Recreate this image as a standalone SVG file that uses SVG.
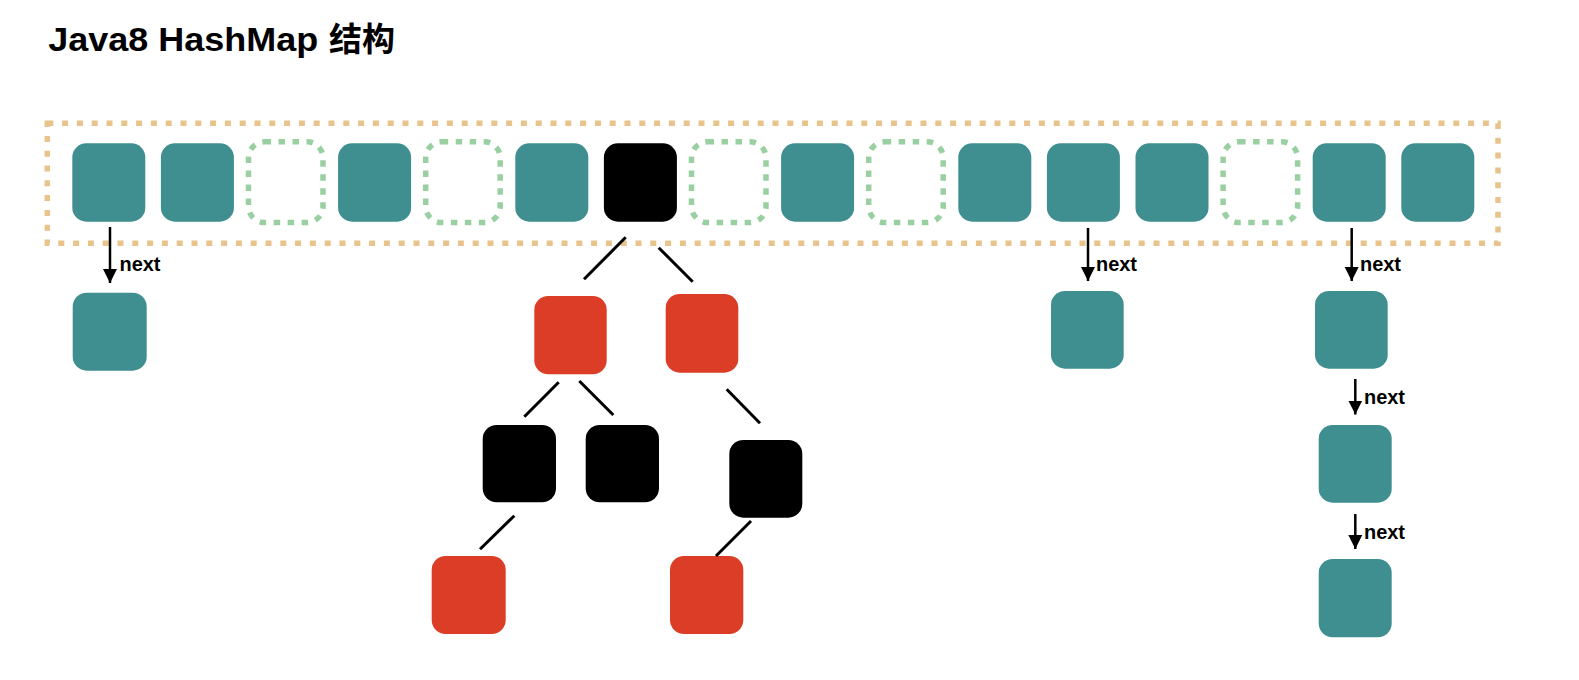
<svg xmlns="http://www.w3.org/2000/svg" width="1579" height="680" viewBox="0 0 1579 680">
<defs>
<style>
.teal{fill:#3F8E90}
.red{fill:#DC3D26}
.blk{fill:#000}
.empty{fill:none;stroke:#9ACFA2;stroke-width:5.5;stroke-dasharray:6.5 7.5}
.table{fill:none;stroke:#E8C38C;stroke-width:5.5;stroke-dasharray:6 8.8}
.edge{stroke:#000;stroke-width:3;fill:none}
.arrow{stroke:#000;stroke-width:2.5;fill:none;marker-end:url(#ah)}
.lbl{font-family:"Liberation Sans",Arial,sans-serif;font-weight:bold;font-size:20.5px;fill:#000}
.title{font-family:"Liberation Sans","Noto Sans CJK SC",sans-serif;font-weight:bold;font-size:33px;fill:#000}
</style>
<marker id="ah" markerUnits="userSpaceOnUse" markerWidth="14" markerHeight="15" refX="14" refY="7" orient="auto" viewBox="0 0 14 14">
<path d="M0,0 L14,7 L0,14 z" fill="#000"/>
</marker>
</defs>
<rect width="1579" height="680" fill="#fff"/>
<text class="title" x="48.3" y="51"><tspan textLength="270" lengthAdjust="spacingAndGlyphs">Java8 HashMap</tspan><tspan x="329" y="51">结构</tspan></text>
<g id="table"><rect class="table" x="47.3" y="123.3" width="1450.7" height="120"/></g>
<g id="buckets">
<g id="b0"><rect class="teal" x="72.3" y="143.3" width="73" height="78.4" rx="14"/></g>
<g id="b1"><rect class="teal" x="160.9" y="143.3" width="73" height="78.4" rx="14"/></g>
<g id="b2"><rect class="empty" x="248.5" y="141.8" width="74.5" height="80.7" rx="16"/></g>
<g id="b3"><rect class="teal" x="338.1" y="143.3" width="73" height="78.4" rx="14"/></g>
<g id="b4"><rect class="empty" x="425.7" y="141.8" width="74.5" height="80.7" rx="16"/></g>
<g id="b5"><rect class="teal" x="515.3" y="143.3" width="73" height="78.4" rx="14"/></g>
<g id="b6"><rect class="blk" x="603.9" y="143.3" width="73" height="78.4" rx="14"/></g>
<g id="b7"><rect class="empty" x="691.5" y="141.8" width="74.5" height="80.7" rx="16"/></g>
<g id="b8"><rect class="teal" x="781.1" y="143.3" width="73" height="78.4" rx="14"/></g>
<g id="b9"><rect class="empty" x="868.7" y="141.8" width="74.5" height="80.7" rx="16"/></g>
<g id="b10"><rect class="teal" x="958.3" y="143.3" width="73" height="78.4" rx="14"/></g>
<g id="b11"><rect class="teal" x="1046.9" y="143.3" width="73" height="78.4" rx="14"/></g>
<g id="b12"><rect class="teal" x="1135.5" y="143.3" width="73" height="78.4" rx="14"/></g>
<g id="b13"><rect class="empty" x="1223.1" y="141.8" width="74.5" height="80.7" rx="16"/></g>
<g id="b14"><rect class="teal" x="1312.7" y="143.3" width="73" height="78.4" rx="14"/></g>
<g id="b15"><rect class="teal" x="1401.3" y="143.3" width="73" height="78.4" rx="14"/></g>
</g>
<g id="list0"><rect class="teal" x="72.7" y="292.7" width="74" height="78" rx="14"/></g>
<g id="list11"><rect class="teal" x="1051" y="291" width="72.7" height="77.7" rx="14"/></g>
<g id="list14a"><rect class="teal" x="1315" y="291" width="72.7" height="77.7" rx="14"/></g>
<g id="list14b"><rect class="teal" x="1318.7" y="425" width="73" height="77.7" rx="14"/></g>
<g id="list14c"><rect class="teal" x="1318.7" y="559" width="73" height="78.3" rx="14"/></g>
<g id="treeL"><rect class="red" x="534.3" y="296" width="72.4" height="78.3" rx="14"/></g>
<g id="treeR"><rect class="red" x="665.7" y="294" width="72.6" height="78.7" rx="14"/></g>
<g id="treeLL"><rect class="blk" x="482.7" y="425" width="73.3" height="77.3" rx="14"/></g>
<g id="treeLR"><rect class="blk" x="585.7" y="425" width="73.3" height="77.3" rx="14"/></g>
<g id="treeRR"><rect class="blk" x="729.3" y="440" width="73" height="77.7" rx="14"/></g>
<g id="treeLLL"><rect class="red" x="431.7" y="556" width="74" height="78" rx="14"/></g>
<g id="treeRRL"><rect class="red" x="670" y="556" width="73.3" height="78" rx="14"/></g>
<g id="connectors">
<line class="arrow" x1="110" y1="227" x2="110" y2="283"/>
<line class="arrow" x1="1088" y1="228" x2="1088" y2="281"/>
<line class="arrow" x1="1351.7" y1="228" x2="1351.7" y2="281"/>
<line class="arrow" x1="1355.3" y1="379" x2="1355.3" y2="414.5"/>
<line class="arrow" x1="1355.3" y1="514" x2="1355.3" y2="549"/>
<line class="edge" x1="625.7" y1="237.3" x2="584" y2="279.3"/>
<line class="edge" x1="658.7" y1="247.7" x2="692.7" y2="281.7"/>
<line class="edge" x1="558.7" y1="382.3" x2="524.3" y2="416.7"/>
<line class="edge" x1="579.3" y1="381" x2="613.3" y2="415"/>
<line class="edge" x1="726.7" y1="389.3" x2="760" y2="423.3"/>
<line class="edge" x1="514.3" y1="515.7" x2="480" y2="549.3"/>
<line class="edge" x1="751" y1="521" x2="716" y2="556"/>
<text class="lbl" x="119.5" y="271" textLength="41" lengthAdjust="spacingAndGlyphs">next</text>
<text class="lbl" x="1096" y="270.7" textLength="41" lengthAdjust="spacingAndGlyphs">next</text>
<text class="lbl" x="1360" y="270.7" textLength="41" lengthAdjust="spacingAndGlyphs">next</text>
<text class="lbl" x="1364" y="404.3" textLength="41" lengthAdjust="spacingAndGlyphs">next</text>
<text class="lbl" x="1364" y="539" textLength="41" lengthAdjust="spacingAndGlyphs">next</text>
</g>
</svg>
